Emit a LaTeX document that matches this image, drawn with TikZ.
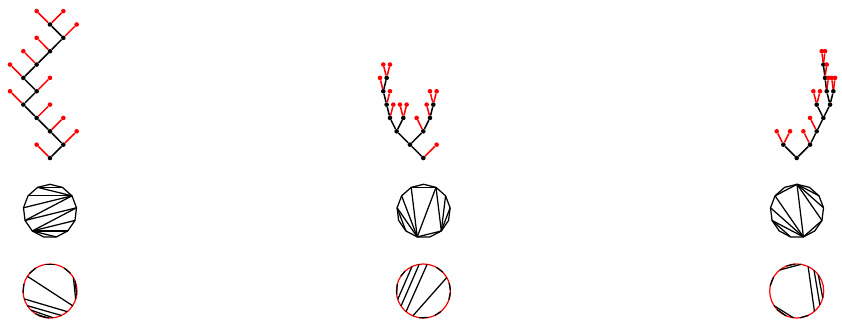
\documentclass[tikz,border=0pt]{standalone}
\usepackage{tikz}
\usetikzlibrary{calc}
\tikzset{
    blackdot/.style={circle,fill=black,inner sep=0pt,minimum size=4.6pt},
    reddot/.style={circle,fill=red,inner sep=0pt,minimum size=4.6pt},
    blackedge/.style={black,line width=1.5pt},
    rededge/.style={red,line width=1.5pt},
    polyline/.style={black,line width=1.25pt},
    chordline/.style={black,line width=1.25pt},
    ringnode/.style={circle,draw=red,line width=1.2pt,inner sep=0pt,outer sep=0pt,minimum size=54pt}
}

\begin{document}
\begin{tikzpicture}[x=1pt,y=1pt]
    \useasboundingbox (0,0) rectangle (842,327);

    % left tree
    \begin{scope}[shift={(50,169)},x=13.33pt,y=13.35pt]
        \foreach \n/\px/\py in {a0/0/0,a2/1/1,a4/0/2,a6/-1/3,a8/-2/4,a10/-1/5,a12/-2/6,a14/-1/7,a16/0/8,a18/1/9,a20/0/10}
            \node[blackdot] (\n) at (\px,\py) {};
        \foreach \n/\px/\py in {a1/-1/1,a3/2/2,a5/1/3,a7/0/4,a9/-3/5,a11/0/6,a13/-3/7,a15/-2/8,a17/-1/9,a19/2/10,a21/-1/11,a22/1/11}
            \node[reddot] (\n) at (\px,\py) {};
        \foreach \p/\c in {a0/a2,a2/a4,a4/a6,a6/a8,a8/a10,a10/a12,a12/a14,a14/a16,a16/a18,a18/a20}
            \draw[blackedge] (\p) -- (\c);
        \foreach \p/\c in {a0/a1,a2/a3,a4/a5,a6/a7,a8/a9,a10/a11,a12/a13,a14/a15,a16/a17,a18/a19,a20/a21,a20/a22}
            \draw[rededge] (\p) -- (\c);
    \end{scope}

    % middle tree
    \begin{scope}[shift={(423.3,169)},x=13.33pt,y=13.35pt]
        \foreach \n/\px/\py in {b0/0/0,b1/-1/1,b3/-2/2,b4/0/2,b5/-2.5/3,b6/-1.5/3,b8/0.5/3,b9/-2.75/4,b14/0.75/4,b15/-3/5,b20/-2.75/6}
            \node[blackdot] (\n) at (\px,\py) {};
        \foreach \n/\px/\py in {b2/1/1,b7/-0.5/3,b10/-2.25/4,b11/-1.75/4,b12/-1.25/4,b13/0.25/4,b16/-2.5/5,b17/0.5/5,b18/1/5,b19/-3.25/6,b21/-3/7,b22/-2.5/7}
            \node[reddot] (\n) at (\px,\py) {};
        \foreach \p/\c in {b0/b1,b1/b3,b1/b4,b3/b5,b3/b6,b4/b8,b5/b9,b8/b14,b9/b15,b15/b20}
            \draw[blackedge] (\p) -- (\c);
        \foreach \p/\c in {b0/b2,b4/b7,b5/b10,b6/b11,b6/b12,b8/b13,b9/b16,b14/b17,b14/b18,b15/b19,b20/b21,b20/b22}
            \draw[rededge] (\p) -- (\c);
    \end{scope}

    % right tree
    \begin{scope}[shift={(796.7,169)},x=13.33pt,y=13.35pt]
        \foreach \n/\px/\py in {c0/0/0,c1/-1/1,c2/1/1,c6/1.5/2,c8/2/3,c9/1.5/4,c10/2.5/4,c13/2.25/5,c14/2.75/5,c15/2.125/6,c19/2/7}
            \node[blackdot] (\n) at (\px,\py) {};
        \foreach \n/\px/\py in {c3/-1.5/2,c4/-0.5/2,c5/0.5/2,c7/1/3,c11/1.25/5,c12/1.75/5,c16/2.375/6,c17/2.625/6,c18/2.875/6,c20/2.25/7,c21/1.875/8,c22/2.125/8}
            \node[reddot] (\n) at (\px,\py) {};
        \foreach \p/\c in {c0/c1,c0/c2,c2/c6,c6/c8,c8/c9,c8/c10,c10/c13,c10/c14,c13/c15,c15/c19}
            \draw[blackedge] (\p) -- (\c);
        \foreach \p/\c in {c1/c3,c1/c4,c2/c5,c6/c7,c9/c11,c9/c12,c13/c16,c14/c17,c14/c18,c15/c20,c19/c21,c19/c22}
            \draw[rededge] (\p) -- (\c);
    \end{scope}

    % polygons
    \foreach \q/\cx in {pa/50,pb/423.6,pc/797}{
        \foreach \i in {0,...,12}
            \coordinate (\q\i) at ($(\cx,116)+({90-\i*360/13}:26.7)$);
        \draw[polyline] (\q0) \foreach \i in {1,...,12} {-- (\q\i)} -- cycle;
    }
    \foreach \a/\b in {8/3,8/4,8/5,8/6,9/2,9/3,10/2,11/2,12/2,12/1}
        \draw[polyline] (pa\a) -- (pa\b);
    \foreach \a/\b in {8/10,7/10,7/11,7/12,12/1,7/1,3/5,2/5,1/5,7/5}
        \draw[polyline] (pb\a) -- (pb\b);
    \foreach \a/\b in {7/9,9/6,10/6,11/6,11/0,0/6,0/4,0/3,0/2,4/6}
        \draw[polyline] (pc\a) -- (pc\b);

    % rings
    \node[ringnode] (ra) at (50,36) {};
    \node[ringnode] (rb) at (423.4,36) {};
    \node[ringnode] (rc) at (796.7,36) {};
    \foreach \a/\b in {147/-33,197/-50,213/-65,225/-83,238/262,245/268,30/-18,22/-9,101/79,140/122,58/41,165/184}
        \draw[chordline] (ra.\a) -- (ra.\b);
    \foreach \a/\b in {115/198,99/214,82/230,30/247,61/44,-19/-3,-65/-49,261/-80,165/187,147/133,17/1}
        \draw[chordline] (rb.\a) -- (rb.\b);
    \foreach \a/\b in {65/-49,50/-31,37/-15,129/81,112/94,213/263,223/247,149/169,-83/-64}
        \draw[chordline] (rc.\a) -- (rc.\b);
\end{tikzpicture}
\end{document}
